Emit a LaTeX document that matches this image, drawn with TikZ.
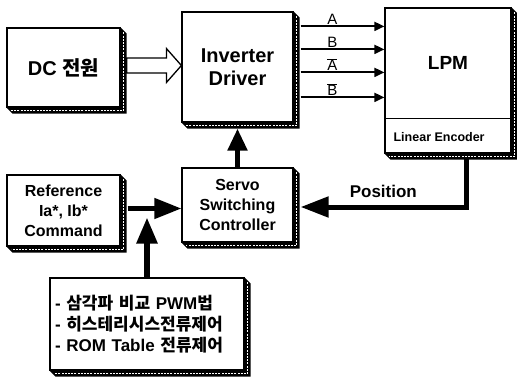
\documentclass[tikz,border=0pt]{standalone}
\usepackage{fontspec}
\setmainfont{Liberation Sans}
\newfontfamily\kr{Noto Sans CJK KR}
\usetikzlibrary{calc,arrows.meta}
% extruded dark edge on the right and bottom of a block
\def\boxband(#1){\fill[black] (#1.north east) -- ++(6,6) |- ($(#1.south west)+(6,6)$) -- (#1.south west) -- (#1.south east) -- cycle;
	\draw[white, line width=0.9pt, dash pattern=on 2pt off 1.2pt] ($(#1.north east)+(3,5)$) |- ($(#1.south west)+(5,3)$);}
\tikzset{
	block/.style={draw, line width=1.2pt, fill=white, inner sep=0pt, align=center},
	sig/.style={line width=1.8pt, -{Triangle[length=10pt,width=9pt]}},
	bus/.style={line width=5pt, -{Triangle[length=27pt,width=20pt]}},
	hollow/.style={line width=1.3pt, fill=white, line join=miter},
}

\begin{document}
\begin{tikzpicture}[x=1pt, y=-1pt]
			%%%%% START %%%%%
			\useasboundingbox (0,0) rectangle (517,377);
			
			\node[block, minimum width=113pt, minimum height=79pt, font=\bfseries\fontsize{20}{23}\selectfont] (dc) at (63.5,67.5) {DC {\kr 전원}};
			\boxband(dc)
			
			\node[block, minimum width=111pt, minimum height=110pt, font=\bfseries\fontsize{20}{23}\selectfont] (inv) at (237.5,67) {Inverter\\Driver};
			\boxband(inv)
			
			\node[block, minimum width=126pt, minimum height=145pt] (lpm) at (448,80.5) {};
			\boxband(lpm)
			\node[font=\bfseries\fontsize{19}{22}\selectfont] (lpmname) at ($(lpm.north)+(0,56)$) {LPM};
			\draw[line width=1.2pt] ($(lpm.south west)+(0,-35)$) -- ($(lpm.south east)+(0,-35)$);
			\node[anchor=west, inner sep=0pt, font=\bfseries\fontsize{12.5}{14}\selectfont] (enc) at ($(lpm.south west)+(9,-17)$) {Linear Encoder};
			
			\node[block, minimum width=113pt, minimum height=71pt, font=\bfseries\fontsize{16}{20}\selectfont] (ref) at (63.5,210.5) {Reference\\Ia*, Ib*\\Command};
			\boxband(ref)
			
			\node[block, minimum width=111pt, minimum height=74pt, font=\bfseries\fontsize{16}{20}\selectfont] (servo) at (237.5,205) {Servo\\Switching\\Controller};
			\boxband(servo)
			
			\node[block, align=left, text width=184pt, inner xsep=5pt, minimum height=92pt, font=\bfseries\fontsize{17}{21}\selectfont] (meth) at (147,324)
				{- {\kr 삼각파 비교} PWM{\kr 법}\\- {\kr 히스테리시스전류제어}\\- ROM Table {\kr 전류제어}};
			\boxband(meth)
			
			% power feed
			\coordinate (dcout) at ($(dc.east)+(6,-2)$);
			\coordinate (invin) at (inv.west |- dcout);
			\draw[hollow] ($(dcout)+(0,-7.5)$) -- ($(invin)+(-15,-7.5)$) -- ($(invin)+(-15,-17)$) -- (invin)
				-- ($(invin)+(-15,17)$) -- ($(invin)+(-15,7.5)$) -- ($(dcout)+(0,7.5)$) -- cycle;
			
			% phase signals
			\foreach \dy/\lab [count=\i] in {15/A, 38/B, 61/{$\overline{\mbox{A}}$}, 86/{$\overline{\mbox{B}}$}}{
				\coordinate (out\i) at ($(inv.north east)+(7,\dy)$);
				\draw[sig] (out\i) -- (out\i -| lpm.west) node[pos=0.38, above=1pt, inner sep=0pt, font=\fontsize{15}{17}\selectfont] {\lab};
			}
			
			% position feedback
			\coordinate (posturn) at ($(lpm.south)+(18,5)$);
			\coordinate (servoin) at ($(servo.east)+(7,2)$);
			\draw[bus, -{Triangle[length=28pt,width=20pt]}] (posturn) |- (servoin) node[pos=0.75, above=7pt, inner sep=0pt, font=\bfseries\fontsize{17}{20}\selectfont] {Position};
			
			\draw[bus, -{Triangle[length=22pt,width=19pt]}] (servo.north) -- ($(inv.south)+(0,6)$);
			
			\coordinate (refout) at ($(ref.east)+(7,-2)$);
			\draw[bus, line width=4.5pt] (refout) -- (refout -| servo.west);
			\coordinate (join) at ($(meth.north |- refout)+(0,9)$);
			\draw[bus, line width=5.5pt, -{Triangle[length=26pt,width=20pt]}] (meth.north) -- (join);
			
			%%%%% END %%%%%
\end{tikzpicture}
\end{document}
